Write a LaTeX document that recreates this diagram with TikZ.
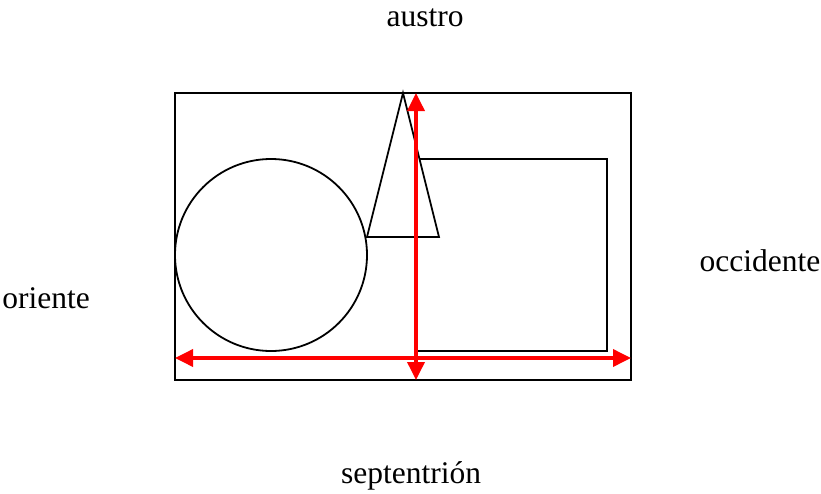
\documentclass[tikz,border=0pt]{standalone}
\usepackage{fontspec}
\setmainfont{Liberation Serif}
\usetikzlibrary{arrows.meta}

\begin{document}
\begin{tikzpicture}[
        x=1pt, y=-1pt, % pixel-like units, y going down
        windname/.style={inner sep=0pt, anchor=base, font=\fontsize{31.5}{36}\selectfont},
        outline/.style={draw=black, line width=1.8pt},
        redarrow/.style={draw=red, line width=3.6pt, {Triangle[length=18pt,width=17pt]}-{Triangle[length=18pt,width=17pt]}}
      ]
      \useasboundingbox (0,0) rectangle (821,493);

      % Shapes
      \draw[outline] (175,93) rectangle (631,380);
      \draw[outline] (271,255) circle (96);
      \draw[outline] (416,159) rectangle (607,351);
      \draw[outline, fill=white] (403,93) -- (439,237) -- (367,237) -- cycle;

      % Nodes
      \node[windname] (austro) at (425,26) {austro};
      \node[windname] (oriente) at (46,308) {oriente};
      \node[windname] (occidente) at (760,271) {occidente};
      \node[windname] (septentrion) at (411,483) {septentrión};

      \coordinate (top) at (416,93);
      \coordinate (bottom) at (416,380);
      \coordinate (left) at (175,358);
      \coordinate (right) at (631,358);

      % Arrows
      \draw[redarrow] (bottom) -- (top);
      \draw[redarrow] (left) -- (right);

    \end{tikzpicture}
\end{document}
